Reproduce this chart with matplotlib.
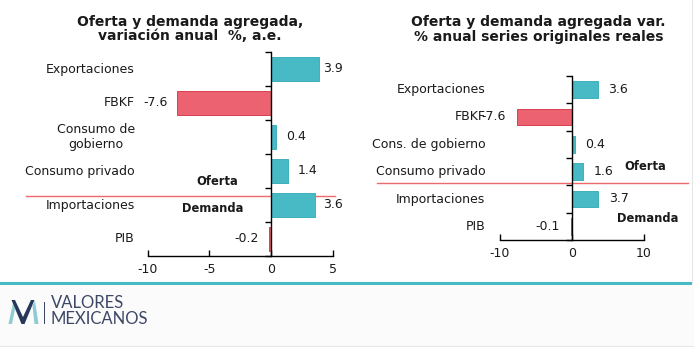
import matplotlib
matplotlib.use("Agg")
import matplotlib.pyplot as plt
from matplotlib.patches import Polygon, Rectangle
import matplotlib.transforms as mtransforms

FONT = "DejaVu Sans"
plt.rcParams["font.family"] = FONT

# --- data -------------------------------------------------------------
left_title = "Oferta y demanda agregada,\nvariación anual  %, a.e."
left_categories = ["PIB", "Importaciones", "Consumo privado",
                   "Consumo de\ngobierno", "FBKF", "Exportaciones"]
left_values = [-0.2, 3.6, 1.4, 0.4, -7.6, 3.9]
left_xticks = [-10, -5, 0, 5]

right_title = "Oferta y demanda agregada var.\n% anual series originales reales"
right_categories = ["PIB", "Importaciones", "Consumo privado",
                    "Cons. de gobierno", "FBKF", "Exportaciones"]
right_values = [-0.1, 3.7, 1.6, 0.4, -7.6, 3.6]
right_xticks = [-10, 0, 10]

TEAL = "#47BAC6"
TEAL_EDGE = "#40B0BC"
RED = "#EC6271"
RED_EDGE = "#D8404E"
LINE_RED = "#EE6A6A"
TEXT = "#1a1a1a"

W, H = 694, 347
fig = plt.figure(figsize=(W / 100, H / 100), dpi=100)
fig.patch.set_facecolor("white")


def px_axes(x0, y0, x1, y1):
    """Axes from pixel box (top-left origin)."""
    return fig.add_axes([x0 / W, 1 - y1 / H, (x1 - x0) / W, (y1 - y0) / H])


def draw_panel(ax, cats, vals, xticks, xlim, label_x_axes, pad, cap,
               bar_h, fs):
    n = len(cats)
    ys = list(range(n))
    colors = [TEAL if v >= 0 else RED for v in vals]
    edges = [TEAL_EDGE if v >= 0 else RED_EDGE for v in vals]
    ax.barh(ys, vals, height=bar_h, color=colors, edgecolor=edges,
            linewidth=0.7, zorder=2)
    ax.set_xlim(*xlim)
    ax.set_ylim(-0.5, n - 0.5)
    for s in ("top", "right"):
        ax.spines[s].set_visible(False)
    ax.spines["left"].set_position(("data", 0))
    for s in ("left", "bottom"):
        ax.spines[s].set_color("black")
        ax.spines[s].set_linewidth(1.0)
        ax.spines[s].set_zorder(3)
    ax.set_yticks([i - 0.5 for i in range(n + 1)])
    ax.set_yticklabels([])
    ax.tick_params(axis="y", direction="out", length=4, width=1,
                   color="black")
    ax.set_xticks(xticks)
    ax.set_xticklabels([str(t) for t in xticks], fontsize=fs, color=TEXT)
    ax.tick_params(axis="x", direction="in", length=4, width=1,
                   color="black", pad=5)
    ax.set_facecolor("none")

    tr = mtransforms.blended_transform_factory(ax.transAxes, ax.transData)
    for y, c in zip(ys, cats):
        ax.text(label_x_axes, y, c, transform=tr, ha="right", va="center",
                multialignment="center", fontsize=fs, color=TEXT,
                linespacing=1.15)
    for y, v in zip(ys, vals):
        if v >= 0:
            ax.text(min(v + pad, cap), y, f"{v:.1f}", ha="left",
                    va="center", fontsize=fs, color=TEXT, zorder=4)
        else:
            ax.text(v - pad, y, f"{v:.1f}", ha="right", va="center",
                    fontsize=fs, color=TEXT, zorder=4)


# left panel
axL = px_axes(147.7, 52, 332.7, 256)
draw_panel(axL, left_categories, left_values, left_xticks, (-10, 5),
           -0.07, 0.8, 4.23, 0.68, 9)
axL.plot([-19.9, 5.15], [1.27, 1.27], color=LINE_RED, lw=1.0,
         clip_on=False, zorder=1)
axL.text(-4.37, 1.68, "Oferta", ha="center", va="center", fontsize=8.3,
         fontweight="bold", color=TEXT)
axL.text(-4.77, 0.91, "Demanda", ha="center", va="center", fontsize=8.3,
         fontweight="bold", color=TEXT)
fig.text(190 / W, 1 - 29 / H, left_title, ha="center", va="center",
         fontsize=10, fontweight="bold", color=TEXT, linespacing=1.05)

# right panel
axR = px_axes(499.7, 76, 643.7, 240)
draw_panel(axR, right_categories, right_values, right_xticks, (-10, 10),
           -0.1, 1.5, 100, 0.62, 9)
axR.plot([-27.1, 16.1], [1.6, 1.6], color=LINE_RED, lw=1.0,
         clip_on=False, zorder=1)
axR.text(10.2, 2.18, "Oferta", ha="center", va="center", fontsize=8.3,
         fontweight="bold", color=TEXT)
axR.text(10.6, 0.30, "Demanda", ha="center", va="center", fontsize=8.3,
         fontweight="bold", color=TEXT)
fig.text(538.7 / W, 1 - 29.5 / H, right_title, ha="center", va="center",
         fontsize=10, fontweight="bold", color=TEXT, linespacing=1.05)

# footer band
fig.patches.append(Rectangle((0, 0), 1, 1 - 284 / H,
                             transform=fig.transFigure,
                             facecolor="#FBFBFB", edgecolor="none",
                             zorder=0))
fig.patches.append(Rectangle((0, 0), 1, 1.2 / H,
                             transform=fig.transFigure,
                             facecolor="#E6E6E6", edgecolor="none",
                             zorder=1))
fig.patches.append(Rectangle((0, 1 - 285 / H), 692 / W, 3 / H,
                             transform=fig.transFigure,
                             facecolor=TEAL, edgecolor="none", zorder=1))
fig.patches.append(Rectangle((692 / W, 1 - 284 / H), 1 / W, 284 / H,
                             transform=fig.transFigure,
                             facecolor="#E4E4E4", edgecolor="none",
                             zorder=1))


def fpt(x, y):
    return (x / W, 1 - y / H)


NAVY = "#27365C"
LIGHT = "#8FCBD3"
# logo mark
logo_parts = [
    ([fpt(8.5, 324), fpt(12, 324), fpt(15, 309), fpt(13, 303)], LIGHT),
    ([fpt(11.5, 300), fpt(15, 300), fpt(23, 317), fpt(31, 300),
      fpt(34.5, 300), fpt(24.5, 324), fpt(21.5, 324)], NAVY),
    ([fpt(32.5, 306), fpt(35, 301), fpt(38.5, 324), fpt(34.5, 324)], LIGHT),
]
for pts, col in logo_parts:
    fig.patches.append(Polygon(pts, closed=True, transform=fig.transFigure,
                               facecolor=col, edgecolor="none", zorder=2))
fig.patches.append(Rectangle(fpt(43.5, 324), 1.4 / W, 22 / H,
                             transform=fig.transFigure,
                             facecolor="#3D4866", edgecolor="none",
                             zorder=2))
fig.text(50.5 / W, 1 - 303.5 / H, "VALORES", ha="left", va="center",
         fontsize=12, color="#3D4866", family="Lato")
fig.text(50.5 / W, 1 - 318.5 / H, "MEXICANOS", ha="left", va="center",
         fontsize=12, color="#3D4866", family="Lato")

fig.savefig("out.png", dpi=100, facecolor=fig.get_facecolor())
